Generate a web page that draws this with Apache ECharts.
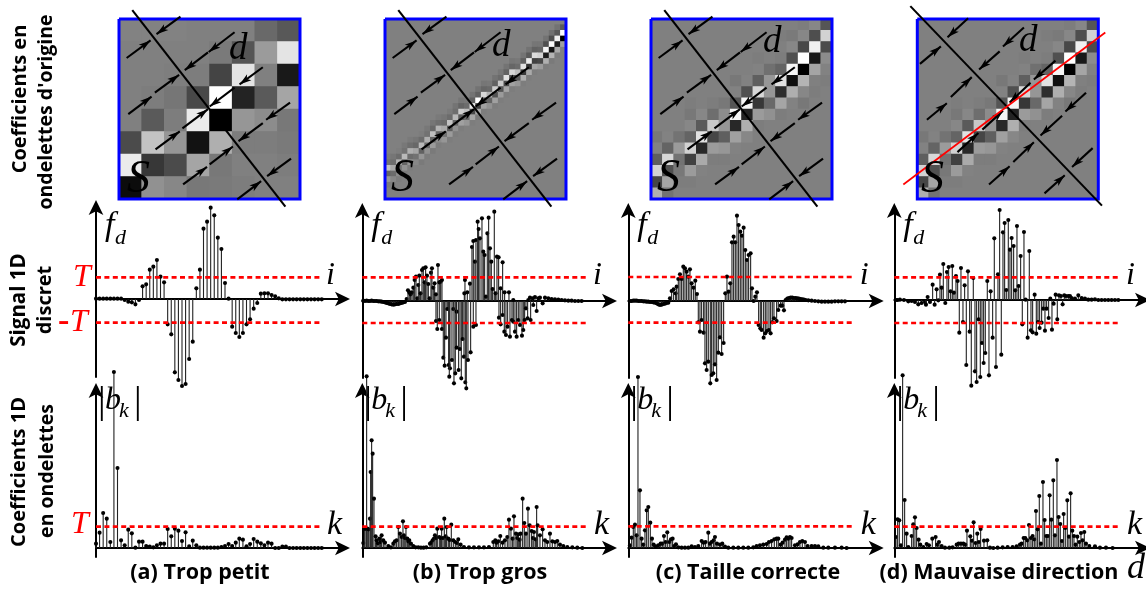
<!DOCTYPE html>
<html><head><meta charset="utf-8">
<style>html,body{margin:0;padding:0;background:#fff}#c{width:1146px;height:592px}</style>
<script src="https://cdn.jsdelivr.net/npm/echarts@6/dist/echarts.min.js"></script>
</head><body><div id="c"></div>
<script>
// ---------- DATA ----------
const heatA = [
[130,130,130,128,128,128,105,88],
[128,128,128,128,122,85,155,228],
[128,128,126,125,68,228,128,25],
[128,125,118,72,255,35,90,165],
[128,90,125,235,0,150,140,120],
[75,195,150,18,175,125,125,122],
[235,55,75,165,120,128,128,125],
[12,145,135,120,122,125,128,128]];
const heatBTopRow = [24,24,23,22,21,21,20,19,18,17,17,16,15,14,14,13,12,11,11,10,9,8,7,7,6,5,4,4,3,2,1,0];
const heatBBand = [
[122,115,195,100,150,122],[118,110,170,108,135,125],[125,108,180,112,140,125],[120,114,185,100,145,122],
[122,110,175,108,150,125],[118,104,165,114,135,128],[125,108,185,98,150,122],[120,114,175,104,145,125],
[118,104,190,98,155,122],[122,110,180,100,140,125],[118,106,170,114,150,128],[122,108,195,94,155,125],
[116,110,185,100,145,125],[118,100,205,90,160,125],[120,108,190,104,150,128],[116,96,235,72,165,125],
[115,98,255,65,170,122],[118,102,215,80,160,125],[120,106,175,100,145,128],[115,98,205,82,160,125],
[118,106,200,85,155,125],[116,98,225,72,165,125],[118,102,215,75,160,125],[120,108,190,90,150,128],
[116,95,225,58,175,125],[115,90,235,50,170,125],[118,98,220,65,165,125],[118,102,210,72,155,128],
[115,80,245,28,175,125],[112,78,250,20,180,122],[115,88,240,30,170,125],[128,90,255,0,160,128]];
const heatC = [
[128,128,128,128,128,128,128,128,128,128,128,128,128,125,135,85],
[128,128,128,128,128,128,128,128,128,128,128,125,122,135,78,210],
[128,128,128,128,128,128,128,128,128,128,128,128,135,72,240,75],
[128,128,128,128,128,128,128,128,128,125,128,125,80,255,25,140],
[128,128,128,128,128,128,128,128,128,130,112,100,245,0,165,130],
[128,128,128,128,128,128,128,120,130,95,150,225,15,180,128,125],
[128,128,128,128,128,128,128,130,80,215,150,45,175,135,125,128],
[128,128,128,125,128,125,120,85,245,55,105,165,130,120,128,128],
[128,128,128,120,135,110,140,245,35,155,145,125,128,128,128,128],
[128,128,128,135,90,200,150,40,175,125,128,128,128,128,128,128],
[120,130,115,100,225,70,95,160,135,128,128,128,128,128,128,128],
[130,100,155,210,40,155,150,130,128,128,128,128,128,128,128,128],
[95,215,115,65,170,125,125,128,128,128,128,128,128,128,128,128],
[210,80,120,155,130,128,128,128,128,128,128,128,128,128,128,128],
[70,165,125,125,128,128,128,128,128,128,128,128,128,128,128,128],
[175,115,128,128,128,128,128,128,128,128,128,128,128,128,128,128]];

const signalA = [1,1,1,1,1,1,1,1,-3,-8,-10,-16,-3,38,44,88,97,117,67,50,-76,-106,-220,-243,-261,-255,-180,-128,32,88,211,232,274,251,184,150,48,1,-83,-102,-114,-102,-76,-61,-29,-12,16,17,17,12,8,2,-1,-1,-1,-1,-1,-1,-1,-1,-1,-1,-1,-1];
const coefA = [13,46,105,88,18,528,240,23,8,55,44,1,19,19,6,4,2,8,13,13,57,35,58,52,21,47,5,22,8,1,1,1,1,1,1,3,6,12,6,16,28,25,5,12,27,19,14,8,16,13,0,0,4,4,0,0,0,0,0,0,0,0,0,0];
const signalB = [[3,1],[8,0],[13,1],[18,0],[23,0],[28,1],[33,0],[38,0],[43,0],[48,-1],[53,-1],[58,-2],[63,-3],[68,-4],[73,-6],[78,-7],[83,-9],[88,-10],[93,-11],[98,-10],[103,-9],[108,-9],[113,-7],[118,-6],[123,-4],[128,-3],
[133,6],[137,32],[141,26],[145,20],[149,26],[153,40],[157,63],[161,73],[165,8],[168,48],[171,76],[175,23],[179,93],[183,98],[187,56],[190,101],[194,76],[198,51],[202,8],[206,85],[209,98],[213,40],[217,53],[221,20],[227,108],[231,56],[235,58],[239,63],
[221,-60],[225,-84],[231,-57],[239,-84],[243,-170],[247,-194],[251,-110],[255,-24],[259,-192],[263,-202],[261,-227],[269,-177],[273,-24],[275,-247],[279,-217],[283,-32],[283,-140],[289,-207],[293,-144],[297,-232],[301,-114],[305,-167],[309,-244],[312,-262],[317,-177],[325,-154],[333,-77],[341,-72],
[308,63],[306,23],[315,26],[323,52],[329,162],[333,180],[338,118],[341,183],[346,238],[349,216],[353,188],[359,248],[363,148],[367,138],[371,13],[375,203],[379,250],[383,158],[387,118],[391,36],[396,268],[400,23],[404,133],[409,131],[415,38],[421,116],
[410,-50],[415,-70],[421,-42],[426,-92],[431,-102],[436,-77],[443,-107],[449,-57],[453,-62],[458,-92],[463,-107],[468,-57],[473,-72],[479,-104],[483,-87],[487,-57],[491,-22],[496,-52],[505,-57],
[427,26],[440,26],[453,3],[498,3],[503,10],[511,8],[518,12],[523,-30],[513,-12],[528,8],[533,10],[541,-7],[548,10],[558,8],[568,6],[578,5],[588,4],[598,3],[608,2],[618,1],[628,1],[638,0],[648,0],[658,0]];
const signalC = [[5,0],[10,0],[15,1],[20,1],[25,1],[30,0],[35,0],[40,0],[45,-1],[50,-1],[55,-2],[60,-2],[65,-3],[70,-3],[75,-4],[80,-5],[85,-7],[90,-10],[95,-12],[100,-11],[105,-9],[110,-8],[115,-6],[120,-5],
[125,8],[130,30],[136,35],[142,23],[145,43],[150,66],[155,80],[160,66],[165,103],[170,98],[175,88],[180,73],[185,95],[190,53],[196,40],[201,61],[206,21],
[210,-64],[215,-92],[220,-57],[226,-95],[230,-187],[235,-207],[240,-182],[246,-247],[250,-222],[255,-217],[260,-190],[265,-237],[270,-155],[275,-109],[280,-159],[286,-126],
[291,23],[296,73],[301,28],[306,53],[311,176],[316,193],[321,176],[326,256],[331,228],[336,208],[341,196],[346,220],[351,153],[356,123],[361,138],[367,143],[371,38],[376,0],[381,13],[386,26],
[391,-72],[396,-82],[400,-87],[406,-110],[411,-97],[416,-90],[422,-87],[427,-97],[432,-64],[437,-52],[445,-60],[450,-27],[457,-14],[462,-14],[467,-28],
[472,3],[477,7],[482,9],[487,10],[492,10],[497,9],[502,9],[507,8],[512,7],[517,6],[522,5],[527,4],[532,3],[540,2],[550,1],[560,0],[570,-1],[580,-2],[590,-2],[600,-2],[610,-2],[620,-1],[630,-1],[640,-1],[650,-1]];
const signalD = [[5,0],[10,0],[17,1],[29,0],[42,-4],[52,-3],[62,-6],[72,-13],[82,-9],[92,-6],[95,-14],[100,9],[107,-6],[115,46],[121,-14],[127,32],[132,-1],[137,76],[142,37],[147,108],[153,-9],[158,84],[163,99],[169,26],[174,102],[179,22],[185,72],[190,57],[195,-98],[200,96],[206,-66],[211,44],[216,-195],[221,86],[226,-95],[231,-257],[237,66],[242,-214],[247,-246],[253,-58],[258,-231],[263,-129],[268,-189],[273,-159],[279,57],[284,-226],[289,26],[295,-113],[300,185],[305,-201],[311,77],[316,270],[321,-164],[326,203],[331,231],[336,30],[342,240],[347,151],[352,186],[358,162],[363,29],[368,222],[373,42],[379,132],[384,-73],[389,204],[394,1],[400,-113],[405,147],[410,-91],[415,-97],[421,16],[426,-101],[431,-66],[436,-84],[442,-68],[447,-26],[452,-92],[457,-26],[463,-54],[468,4],[473,-89],[478,-11],[484,16],[489,-58],[494,14],[500,12],[505,-13],[510,14],[515,12],[522,12],[527,12],[532,6],[542,4],[552,14],[562,6],[572,4],[582,1],[592,1],[602,2],[612,0],[622,0],[632,0],[642,0],[652,0],[662,0],[672,0]];
const coefB = [[3,15],[7,58],[11,58],[13,515],[15,58],[19,56],[23,88],[25,228],[28,323],[31,283],[35,148],[40,35],[43,23],[47,14],[51,28],[55,18],[58,38],[63,23],[68,16],[78,6],[86,2],[93,13],[98,20],[103,23],[108,63],[113,43],[118,33],[122,80],[125,38],[128,30],[131,63],[135,28],[138,20],[141,23],[146,13],[153,6],[160,2],[168,2],[176,1],[184,1],[192,2],[203,13],[207,16],[211,23],[215,28],[218,38],[222,30],[225,58],[231,33],[235,30],[238,58],[242,30],[246,88],[250,35],[253,63],[258,28],[262,24],[267,70],[273,23],[279,18],[284,15],[288,26],[295,10],[305,3],[320,2],[335,2],[350,2],[365,2],[380,3],[393,18],[399,23],[403,16],[408,20],[414,36],[421,16],[428,23],[435,33],[440,85],[446,58],[451,28],[455,95],[461,43],[465,30],[468,41],[472,25],[475,43],[481,148],[486,75],[491,43],[497,118],[502,68],[508,51],[512,30],[515,48],[520,26],[523,123],[526,68],[533,38],[541,56],[548,23],[555,18],[563,43],[570,20],[578,18],[585,21],[593,10],[603,6],[615,3],[630,2],[645,1],[660,0]];
const coefC = [[5,8],[10,31],[15,63],[20,70],[25,38],[29,513],[35,173],[40,28],[45,10],[50,53],[55,113],[60,123],[66,76],[71,28],[76,10],[82,5],[90,8],[97,13],[102,13],[107,36],[112,18],[117,47],[123,18],[128,26],[133,28],[138,6],[143,11],[150,2],[160,1],[170,1],[180,1],[190,5],[200,3],[210,6],[220,21],[226,16],[232,18],[240,46],[245,13],[250,18],[256,23],[260,33],[266,13],[275,10],[282,13],[290,4],[300,1],[315,1],[330,1],[345,1],[360,1],[375,2],[385,6],[395,8],[405,10],[415,12],[422,18],[430,21],[438,26],[445,28],[450,28],[457,10],[463,16],[470,25],[475,32],[480,28],[485,33],[490,30],[500,8],[508,11],[515,18],[522,21],[530,18],[538,6],[550,6],[560,6],[570,5],[585,1],[600,1],[620,1],[640,1],[655,0]];
const coefD = [[5,33],[10,86],[15,83],[20,8],[25,518],[31,144],[37,43],[42,3],[52,36],[57,71],[62,92],[67,60],[73,25],[78,10],[87,3],[97,12],[104,8],[114,28],[124,33],[129,10],[134,18],[142,6],[152,1],[165,1],[175,2],[187,10],[193,13],[200,13],[207,13],[213,10],[218,52],[228,35],[233,22],[238,77],[244,15],[249,43],[254,18],[259,57],[269,22],[279,23],[287,1],[297,0],[310,1],[325,2],[340,3],[355,3],[367,5],[377,10],[382,13],[388,30],[393,30],[399,23],[404,69],[410,30],[415,36],[420,26],[425,111],[430,56],[435,156],[440,13],[446,198],[451,84],[456,36],[461,36],[466,158],[471,85],[477,203],[482,38],[488,264],[493,93],[498,72],[503,21],[508,102],[513,60],[519,143],[524,34],[529,164],[534,52],[539,36],[544,10],[549,34],[555,18],[560,45],[565,23],[570,48],[575,13],[585,6],[602,5],[617,1],[635,1],[655,0]];

const thresholdUp = [65,71,72,68];
const thresholdDown = [-71,-66,-65,-69];
const thresholdCoef = [64,64,65,64];
const thresholdSpan = [677,678,675,679];

// annotation segments: x1,y1,x2,y2,arrowhead (box = 0..545)
const annotABC = [
[40,-27,501,568,0],
[23,118,95,65,1],[185,-7,113,46,1],
[28,288,98,235,1],[108,223,181,169,1],[348,40,270,100,1],[268,101,198,155,1],
[110,395,183,340,1],[191,331,268,273,1],[433,146,363,198,1],[348,208,273,265,1],
[193,501,265,448,1],[273,440,343,386,1],[515,253,443,305,1],[433,315,360,370,1],
[356,546,428,491,1],[518,423,446,476,1]];
const annotD = [
[-21,-39,556,565,0],
[8,136,71,83,1],[153,-2,91,55,1],
[29,305,89,255,1],[101,236,164,176,1],[321,26,258,83,1],[248,98,186,153,1],
[121,403,184,345,1],[196,335,258,278,1],[416,126,351,183,1],[341,193,278,253,1],
[216,501,278,446,1],[289,433,351,373,1],[508,223,446,280,1],[436,293,371,353,1],
[383,528,444,473,1],[528,391,466,448,1]];
const directionLine = [[-42,501,566,41,0]];
const boxOutline = [[0,0],[545,0],[545,545],[0,545],[0,0]];

const rowTitles = [["Coefficients en",20,99,20],["ondelettes d'origine",46,112,19.5],["Signal 1D",19,300,20.5],["discret",45,300,20],["Coefficients 1D",19,472,20],["en ondelettes",47,471,19.5]];
const captions = [["(a) Trop petit",200],["(b) Trop gros",480],["(c) Taille correcte",748],["(d) Mauvaise direction",999]];

// ---------- LAYOUT ----------
const boxLeft = [119,385,651,917.3], boxW = 181, boxTop = 19, boxH = 180;
const axisLeft = [96,362.3,628.3,894.3], axisTip = [343,610,876.7,1143];
const midZero = [299,301,301,300], midTop = [207,210,210,210], midBottom = [377,378,378,378];
const botZero = 548, botTop = 390, botBottom = 557;
const U = 3; // data units per pixel

const grids=[], xAxes=[], yAxes=[], series=[];
const SANS = '"Open Sans"', MATH = '"Liberation Serif"';
function addGrid(l,t,w,h,xa,ya,extra){grids.push(Object.assign({left:l,top:t,width:w,height:h,containLabel:false},extra||{}));
  xAxes.push(Object.assign({gridIndex:grids.length-1,show:false},xa));
  yAxes.push(Object.assign({gridIndex:grids.length-1,show:false},ya));
  return grids.length-1;}
const idx=n=>Array.from({length:n},(_,i)=>i);
function heat(i,cells,n){
  const g=addGrid(boxLeft[i],boxTop,boxW,boxH,{type:'category',data:idx(n)},{type:'category',data:idx(n),inverse:true},
    {show:true,backgroundColor:'#808080',borderWidth:0});
  series.push({type:'heatmap',xAxisIndex:g,yAxisIndex:g,data:cells,silent:true,progressive:0,emphasis:{disabled:true}});
}
function matrixCells(m){const o=[];m.forEach((r,y)=>r.forEach((v,x)=>o.push([x,y,v])));return o;}
function bandCells(){const o=[];for(let y=0;y<32;y++)for(let x=0;x<32;x++){const k=y-heatBTopRow[x];
  o.push([x,y,(k>=0&&k<6)?heatBBand[x][k]:128]);}return o;}
heat(0,matrixCells(heatA),8); heat(1,bandCells(),32); heat(2,matrixCells(heatC),16); heat(3,matrixCells(heatC),16);

function segItem(color,w,a){
  const s=a.coord([a.value(0),a.value(1)]), e=a.coord([a.value(2),a.value(3)]);
  const ch=[{type:'line',shape:{x1:s[0],y1:s[1],x2:e[0],y2:e[1]},style:{stroke:color,lineWidth:w}}];
  if(a.value(4)){const d=Math.atan2(e[1]-s[1],e[0]-s[0]),L=12,W=3.6,cs=Math.cos(d),sn=Math.sin(d);
    ch.push({type:'polygon',shape:{points:[[e[0],e[1]],[e[0]-L*cs+W*sn,e[1]-L*sn-W*cs],[e[0]-L*.75*cs,e[1]-L*.75*sn],[e[0]-L*cs-W*sn,e[1]-L*sn+W*cs]]},style:{fill:color}});}
  return {type:'group',children:ch};
}
function overlay(i,ann){
  const g=addGrid(boxLeft[i],boxTop,boxW,boxH,{type:'value',min:0,max:545},{type:'value',min:0,max:545,inverse:true});
  series.push({type:'line',xAxisIndex:g,yAxisIndex:g,data:boxOutline,showSymbol:false,clip:false,silent:true,z:3,lineStyle:{color:'#0000ff',width:3,join:'miter'}});
  series.push({type:'custom',xAxisIndex:g,yAxisIndex:g,data:ann,silent:true,z:4,clip:false,encode:{x:[0,2],y:[1,3]},
    renderItem:(p,a)=>segItem('#000',2.1,a)});
  if(i===3)series.push({type:'custom',xAxisIndex:g,yAxisIndex:g,data:directionLine,silent:true,z:5,clip:false,encode:{x:[0,2],y:[1,3]},
    renderItem:(p,a)=>segItem('#ff0000',1.7,a)});
}
[annotABC,annotABC,annotABC,annotD].forEach((a,i)=>overlay(i,a));

function stemSeries(g,data){
  return {type:'custom',xAxisIndex:g,yAxisIndex:g,data,silent:true,z:3,clip:false,encode:{x:0,y:1},
    renderItem:(p,a)=>{const x=a.value(0),y=a.value(1),b=a.coord([x,0]),t=a.coord([x,y]);
      return {type:'group',children:[
        {type:'line',shape:{x1:b[0],y1:b[1],x2:t[0],y2:t[1]},style:{stroke:'#222',lineWidth:1.1}},
        {type:'circle',shape:{cx:t[0],cy:t[1],r:2.05},style:{fill:'#000'}}]};}};
}
function arrowAxis(){return {type:'value',show:true,splitLine:{show:false},axisTick:{show:false},axisLabel:{show:false},
  axisLine:{show:true,onZero:true,symbol:['none','arrow'],symbolSize:[11,15],symbolOffset:[0,7],lineStyle:{color:'#000',width:2}}};}
function stemPanel(i,top,bottom,zero,data,levels){
  const w=axisTip[i]-axisLeft[i];
  const g=addGrid(axisLeft[i],top,w,bottom-top,
    Object.assign(arrowAxis(),{min:0,max:w*U}),
    Object.assign(arrowAxis(),{min:(zero-bottom)*U,max:(zero-top)*U}));
  levels.forEach(v=>series.push({type:'line',xAxisIndex:g,yAxisIndex:g,data:[[0,v],[thresholdSpan[i],v]],showSymbol:false,silent:true,z:6,
    lineStyle:{color:'#ff0000',width:2.6,type:[5,3.4],cap:'butt'}}));
  series.push(stemSeries(g,data));
}
const step=10.75;
const pairs=v=>v.map((y,i)=>[i*step,y]);
[pairs(signalA),signalB,signalC,signalD].forEach((d,i)=>stemPanel(i,midTop[i],midBottom[i],midZero[i],d,[thresholdUp[i],thresholdDown[i]]));
[pairs(coefA),coefB,coefC,coefD].forEach((d,i)=>stemPanel(i,botTop,botBottom,botZero,d,[thresholdCoef[i]]));

// ---------- TEXT ----------
const gfx=[];
function txt(text,x,y,size,o={}){gfx.push({type:'text',x,y,z:100,silent:true,rotation:o.rot||0,style:{text,fill:o.fill||'#000',align:o.align||'left',verticalAlign:'middle',
  font:`${o.weight||'normal'} ${o.italic===false?'':'italic'} ${size}px ${o.family||MATH}`}});}
rowTitles.forEach(r=>txt(r[0],r[1],r[2],r[3],{family:SANS,weight:'bold',italic:false,rot:Math.PI/2,align:'center'}));
captions.forEach(c=>txt(c[0],c[1],573,21.5,{family:SANS,weight:'bold',italic:false,align:'center'}));
const dPos=[[229,49],[492,46],[763,42],[1019,41]], sPos=[[127,180],[391,179],[657,179],[921,180]];
dPos.forEach(p=>txt('d',p[0],p[1],37,{}));
sPos.forEach(p=>txt('S',p[0],p[1],46,{}));
axisLeft.forEach((l,i)=>{
  txt('f',l+9,226,34,{}); txt('d',l+19,238,22,{});
  txt('i',axisTip[i]-17,276,32,{});
  txt('|',l+2,403,38,{italic:false}); txt('b',l+9,401,32,{}); txt('k',l+23,411,22,{}); txt('|',l+38,403,38,{italic:false});
  txt('k',axisTip[i]-16,525,34,{});
});
txt('T',73,278,32,{fill:'#ff0000'});
txt('-',58,322,34,{fill:'#ff0000',weight:'bold',italic:false});
txt('T',70,323,32,{fill:'#ff0000'});
txt('T',71,525,32,{fill:'#ff0000'});
txt('d',1127,569,36,{});

const chart=echarts.init(document.getElementById('c'),null,{renderer:'canvas'});
chart.setOption({animation:false,backgroundColor:'#fff',
  visualMap:{show:false,type:'continuous',min:0,max:255,dimension:2,seriesIndex:[0,1,2,3],inRange:{color:['#000000','#ffffff']}},
  grid:grids,xAxis:xAxes,yAxis:yAxes,series,graphic:{elements:gfx}});
</script></body></html>
